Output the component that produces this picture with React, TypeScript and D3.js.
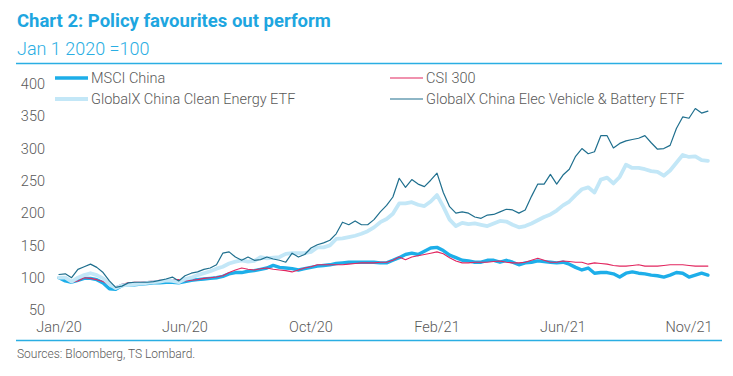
import React from "react";
import * as d3 from "d3";

const tickLabels = ["Jan/20", "Jun/20", "Oct/20", "Feb/21", "Jun/21", "Nov/21"];
const tickIndex = [0, 20, 40, 60, 80, 100];
const yTicks = [50, 100, 150, 200, 250, 300, 350, 400];

const msciChina = [
  100, 95, 93, 96, 99, 99, 97, 92, 83, 82,
  88, 89, 89, 90, 91, 92, 92, 93, 93, 92,
  94, 96, 97, 98, 99, 100, 102, 106, 108, 108,
  110, 111, 113, 115, 119, 116, 115, 114, 112, 114,
  116, 118, 119, 120, 122, 123, 124, 124, 124, 124,
  124, 123, 123, 127, 131, 136, 138, 136, 141, 146,
  147, 142, 135, 131, 127, 126, 124, 124, 127, 127,
  124, 127, 124, 120, 123, 124, 126, 125, 124, 123,
  124, 121, 116, 112, 115, 107, 108, 108, 106, 101,
  107, 109, 107, 106, 104, 103, 101, 104, 108, 107,
  101, 104, 107, 104,
];

const csi300 = [
  100, 99, 93, 95, 100, 99, 97, 94, 89, 86,
  90, 92, 93, 93, 94, 95, 96, 96, 97, 97,
  95, 96, 97, 99, 100, 101, 103, 108, 112, 115,
  113, 112, 114, 115, 113, 112, 111, 109, 112, 115,
  117, 120, 120, 120, 120, 120, 121, 122, 123, 123,
  123, 124, 124, 127, 132, 128, 132, 134, 136, 138,
  140, 137, 131, 126, 123, 123, 124, 124, 124, 125,
  126, 124, 123, 123, 124, 127, 130, 127, 124, 124,
  126, 125, 124, 124, 121, 123, 122, 121, 119, 118,
  118, 119, 120, 118, 118, 118, 119, 120, 120, 120,
  119, 118, 118, 118,
];

const cleanEnergy = [
  100, 100, 94, 100, 104, 107, 104, 99, 90, 84,
  88, 89, 90, 91, 92, 93, 94, 96, 95, 93,
  98, 100, 104, 107, 110, 114, 117, 122, 125, 127,
  125, 126, 132, 130, 131, 132, 137, 138, 138, 138,
  140, 147, 147, 150, 160, 161, 163, 165, 168, 172,
  178, 186, 191, 199, 215, 215, 217, 213, 211, 218,
  228, 210, 190, 180, 185, 183, 184, 182, 180, 184,
  188, 187, 182, 178, 180, 184, 189, 194, 198, 204,
  212, 218, 228, 237, 240, 232, 252, 255, 246, 256,
  275, 270, 270, 268, 265, 264, 258, 266, 278, 290,
  287, 288, 282, 281,
];

const evBattery = [
  105, 106, 100, 113, 117, 121, 116, 108, 95, 85,
  87, 92, 93, 93, 93, 94, 96, 98, 101, 95,
  103, 107, 109, 113, 115, 120, 138, 140, 132, 127,
  132, 127, 128, 132, 129, 127, 124, 138, 132, 136,
  146, 151, 154, 158, 168, 186, 182, 188, 182, 182,
  190, 202, 212, 225, 254, 240, 252, 245, 241, 251,
  262, 232, 210, 200, 202, 200, 194, 192, 197, 198,
  202, 206, 205, 200, 205, 226, 245, 245, 260, 245,
  259, 268, 288, 300, 292, 295, 320, 320, 301, 308,
  312, 314, 316, 320, 309, 299, 300, 305, 331, 349,
  347, 362, 355, 358,
];

const seriesNames = [
  "MSCI China",
  "CSI 300",
  "GlobalX China Clean Energy ETF",
  "GlobalX China Elec Vehicle & Battery ETF",
];

const FONT = "Roboto, 'Noto Sans', sans-serif";
const TEXT = "#595959";

export default function App() {
  const W = 733;
  const H = 376;
  const x = d3.scaleLinear().domain([0, 100]).range([59, 689]);
  const y = d3.scaleLinear().domain([50, 400]).range([310, 84]);
  const line = d3
    .line<number>()
    .x((_, i) => x(i))
    .y((d) => y(d));

  const series = [
    { name: seriesNames[0], data: msciChina, color: "#1DAEE9", width: 3.4 },
    { name: seriesNames[1], data: csi300, color: "#E2265F", width: 1.1 },
    { name: seriesNames[2], data: cleanEnergy, color: "#C3E7F7", width: 3.8 },
    { name: seriesNames[3], data: evBattery, color: "#1F6F8E", width: 1.2 },
  ];

  const legendPos = [
    { x: 55, y: 78 },
    { x: 390, y: 78 },
    { x: 55, y: 99 },
    { x: 390, y: 99 },
  ];

  return (
    <svg
      width={W}
      height={H}
      style={{ position: "absolute", left: 0, top: 0, display: "block", background: "#fff" }}
      fontFamily={FONT}
    >
      <text x={17} y={27} fontSize={18.5} fontWeight={700} fill="#1EA6E0">
        Chart 2: Policy favourites out perform
      </text>
      <text x={17} y={55} fontSize={18} fontWeight={300} fill="#2AAEE3">
        Jan 1 2020 =100
      </text>
      <line x1={16} x2={722} y1={63.5} y2={63.5} stroke="#2AAEE3" strokeWidth={1.5} />

      {yTicks.map((t) => (
        <text
          key={t}
          x={45}
          y={y(t)}
          dy="0.35em"
          textAnchor="end"
          fontSize={14.5}
          fontWeight={300}
          fill={TEXT}
        >
          {t}
        </text>
      ))}

      {tickLabels.map((lab, k) => (
        <text
          key={lab}
          x={x(tickIndex[k])}
          y={327}
          dy="0.35em"
          textAnchor="middle"
          fontSize={14.5}
          fontWeight={300}
          fill={TEXT}
        >
          {lab}
        </text>
      ))}

      {series.map((s) => (
        <path
          key={s.name}
          d={line(s.data) || ""}
          fill="none"
          stroke={s.color}
          strokeWidth={s.width}
          strokeLinejoin="round"
          strokeLinecap="round"
        />
      ))}

      {series.map((s, k) => (
        <g key={s.name + "-leg"}>
          <line
            x1={legendPos[k].x}
            x2={legendPos[k].x + 33}
            y1={legendPos[k].y}
            y2={legendPos[k].y}
            stroke={s.color}
            strokeWidth={s.width}
          />
          <text
            x={legendPos[k].x + 36}
            y={legendPos[k].y}
            dy="0.35em"
            fontSize={14.5}
            fontWeight={300}
            fill={TEXT}
          >
            {s.name}
          </text>
        </g>
      ))}

      <line x1={16} x2={722} y1={340.5} y2={340.5} stroke="#2AAEE3" strokeWidth={1.5} />
      <text x={17} y={358} fontSize={12} fontWeight={300} fill={TEXT}>
        Sources: Bloomberg, TS Lombard.
      </text>
    </svg>
  );
}
